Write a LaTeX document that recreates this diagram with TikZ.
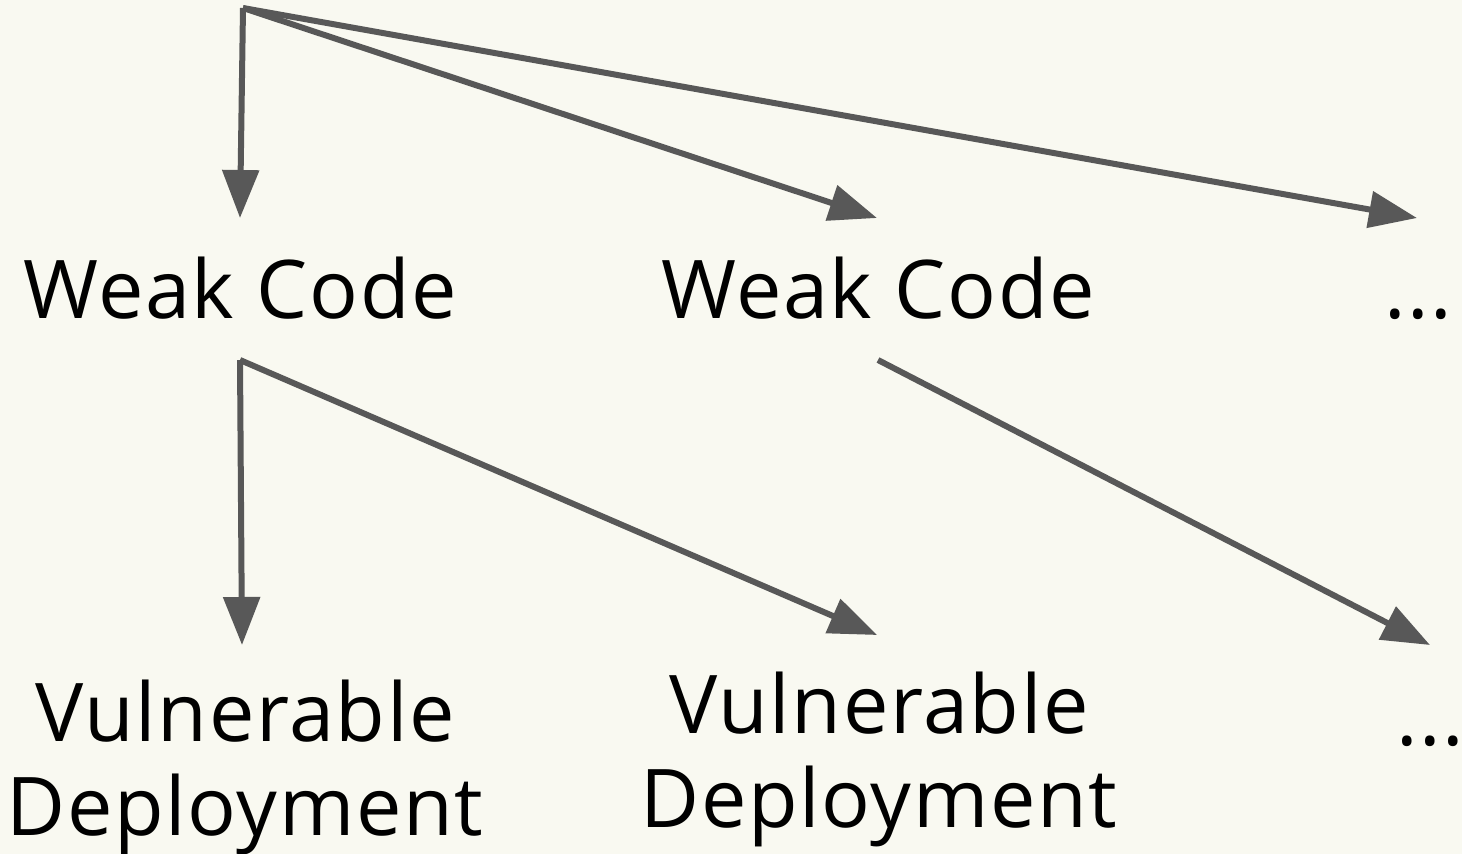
\documentclass[tikz,border=0pt]{standalone}
\usepackage{fontspec}
\setmainfont[LetterSpace=2]{Open Sans}
\usetikzlibrary{arrows.meta}
\definecolor{bg}{RGB}{249,249,241}
\definecolor{ln}{RGB}{88,88,88}
\tikzset{
  conn/.style={draw=ln, line width=6pt, -{Triangle[length=48pt,width=36pt]}},
  lbl/.style={font=\fontsize{81}{94}\selectfont, inner sep=0pt, anchor=base, align=center, text=black}
}
\begin{document}
\begin{tikzpicture}[x=1pt,y=-1pt]
\fill[bg] (0,0) rectangle (1462,854);
\useasboundingbox (0,0) rectangle (1462,854);
% labels
\node[lbl] (wc1) at (240,318) {Weak Code};
\node[lbl] (wc2) at (878,318) {Weak Code};
\node[lbl] (d1) at (1418,318) {...};
\node[lbl] (vd1) at (245,835) {Vulnerable\\Deployment};
\node[lbl] (vd2) at (879,827) {Vulnerable\\Deployment};
\node[lbl] (d2) at (1430,745) {...};
% connector ends
\coordinate (root) at (243,8);
\coordinate (t1) at (240,218);
\coordinate (t2) at (877,218);
\coordinate (t3) at (1417,218);
\coordinate (s1) at (240,360);
\coordinate (s2) at (878,360);
\coordinate (u1) at (242,645);
\coordinate (u2) at (877,635);
\coordinate (u3) at (1430,645);
\draw[conn] (root) -- (t1);
\draw[conn] (root) -- (t2);
\draw[conn] (root) -- (t3);
\draw[conn] (s1) -- (u1);
\draw[conn] (s1) -- (u2);
\draw[conn] (s2) -- (u3);
\end{tikzpicture}
\end{document}
